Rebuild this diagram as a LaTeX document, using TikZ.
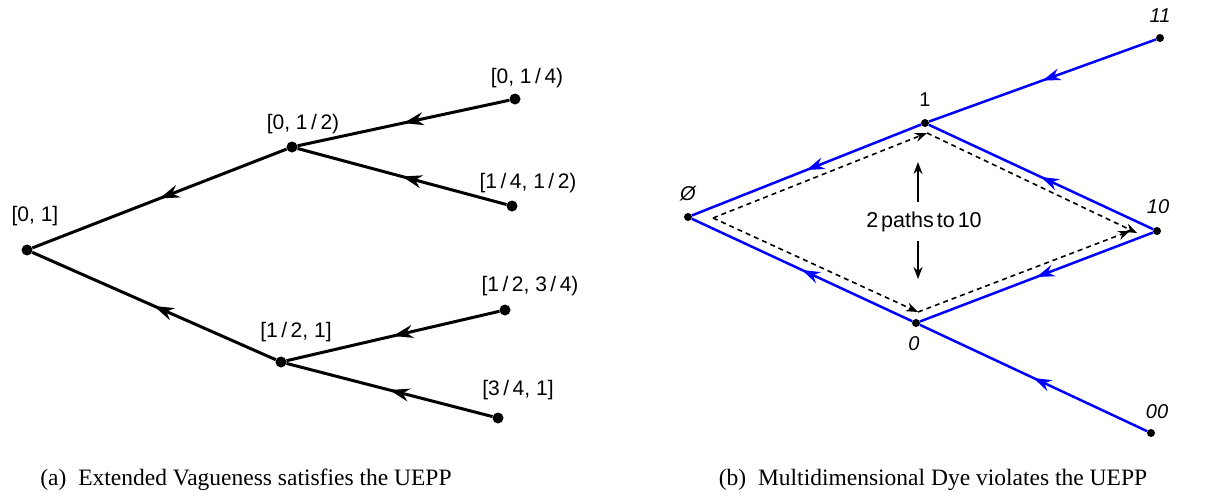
\documentclass[tikz,border=0pt]{standalone}
\usepackage{fontspec}
\setsansfont{Liberation Sans}
\newfontfamily\capfont{Liberation Serif}
\usetikzlibrary{arrows.meta,decorations.markings}
\begin{document}
\begin{tikzpicture}[x=1pt,y=-1pt,
  dotL/.style={circle,fill=black,inner sep=0pt,minimum size=11pt},
  dotR/.style={circle,fill=black,inner sep=0pt,minimum size=8pt},
  labL/.style={font=\sffamily\fontsize{21}{24}\selectfont,inner sep=0pt},
  labR/.style={font=\sffamily\fontsize{20}{24}\selectfont,inner sep=0pt},
  labP/.style={font=\sffamily\fontsize{21.5}{24}\selectfont,inner sep=0pt},
  labRi/.style={font=\sffamily\itshape\fontsize{20}{24}\selectfont,inner sep=0pt},
  captext/.style={font=\capfont\fontsize{23.5}{26}\selectfont,inner sep=0pt},
  treeedge/.style={draw=black,line width=3pt,postaction={decorate},
    decoration={markings,mark=at position 0.5 with {\arrow{Stealth[length=20pt,width=13pt]}}}},
  blueedge/.style={draw=blue,line width=2.5pt,postaction={decorate},
    decoration={markings,mark=at position 0.5 with {\arrow{Stealth[length=18pt,width=12pt]}}}},
  dashedge/.style={draw=black,line width=1.6pt,dash pattern=on 5pt off 4pt,
    -{Stealth[length=12pt,width=9pt]}},
  pointer/.style={draw=black,line width=1.6pt,-{Stealth[length=12pt,width=9pt]}}
]
\useasboundingbox (0,0) rectangle (1210,501);

% ---------- left tree ----------
\node[dotL] (r)   at (27,250) {};
\node[dotL] (a)   at (292,147) {};
\node[dotL] (b)   at (281,362) {};
\node[dotL] (aa)  at (515,99) {};
\node[dotL] (ab)  at (512,206) {};
\node[dotL] (ba)  at (505,310) {};
\node[dotL] (bb)  at (498,418) {};

\node[labL] (lr)  at (35,216) {[0, 1]};
\node[labL] (la)  at (303,124) {[0, 1\,/\,2)};
\node[labL] (lb)  at (296,332) {[1\,/\,2, 1]};
\node[labL] (laa) at (527,78) {[0, 1\,/\,4)};
\node[labL] (lab) at (528,183) {[1\,/\,4, 1\,/\,2)};
\node[labL] (lba) at (530,286) {[1\,/\,2, 3\,/\,4)};
\node[labL] (lbb) at (518,390) {[3\,/\,4, 1]};

\draw[treeedge] (a) -- (r);
\draw[treeedge] (b) -- (r);
\draw[treeedge] (aa) -- (a);
\draw[treeedge] (ab) -- (a);
\draw[treeedge] (ba) -- (b);
\draw[treeedge] (bb) -- (b);

% ---------- right graph ----------
\node[dotR] (e)   at (688,217) {};
\node[dotR] (one) at (925,123) {};
\node[dotR] (oo)  at (1160,38) {};
\node[dotR] (oz)  at (1157,231) {};
\node[dotR] (z)   at (916,323) {};
\node[dotR] (zz)  at (1151,433) {};

\node[labRi] (le)  at (688,194) {Ø};
\node[labR]  (lone) at (925,100) {1};
\node[labRi] (loo) at (1160,16) {11};
\node[labRi] (loz) at (1158,207) {10};
\node[labRi] (lz)  at (914,344) {0};
\node[labRi] (lzz) at (1157,412) {00};

\draw[blueedge] (oo) -- (one);
\draw[blueedge] (oz) -- (one);
\draw[blueedge] (one) -- (e);
\draw[blueedge] (z) -- (e);
\draw[blueedge] (oz) -- (z);
\draw[blueedge] (zz) -- (z);

\coordinate (dA) at (713,218);
\coordinate (dB) at (927,133);
\coordinate (dC) at (1137,233);
\coordinate (dD) at (918,312);
\coordinate (dE) at (1130,231);
\draw[dashedge] (dA) -- (dB);
\draw[dashedge] (dB) -- (dC);
\draw[dashedge] (dA) -- (dD);
\draw[dashedge] (dD) -- (dE);

\node[labP] (paths) at (924,222) {2\hspace{0.14em}paths\hspace{0.14em}to\hspace{0.14em}10};
\coordinate (upB) at (918,202);
\coordinate (upT) at (918,162);
\coordinate (dnB) at (918,241);
\coordinate (dnT) at (918,279);
\draw[pointer] (upB) -- (upT);
\draw[pointer] (dnB) -- (dnT);

% ---------- captions ----------
\node[captext] (capa) at (246,480) {(a)\enspace Extended Vagueness satisfies the UEPP};
\node[captext] (capb) at (933,480) {(b)\enspace Multidimensional Dye violates the UEPP};
\end{tikzpicture}
\end{document}
